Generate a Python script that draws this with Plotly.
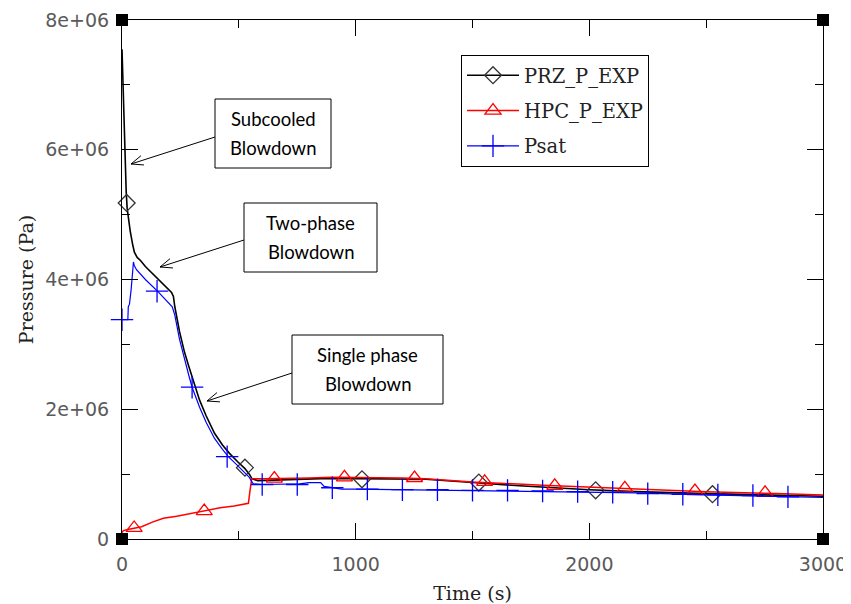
import math
import plotly.graph_objects as go

# ---------------- data ----------------
prz_t = [0, 2, 5, 8, 11, 14, 18, 22, 28, 35, 45, 53, 65, 80, 100, 130, 160, 190, 212, 220, 226,
         246, 266, 286, 310, 332, 360, 396, 430, 460, 495, 525, 545, 556, 580, 650, 750, 850,
         1000, 1200, 1300, 1500, 1700, 2000, 2200, 2500, 2800, 3000]
prz_p = [7.55e6, 7.3e6, 6.7e6, 6.3e6, 5.95e6, 5.7e6, 5.35e6, 5.1e6, 4.92e6, 4.75e6, 4.55e6, 4.42e6,
         4.34e6, 4.29e6, 4.20e6, 4.09e6, 3.98e6, 3.88e6, 3.80e6, 3.74e6, 3.58e6,
         3.20e6, 2.90e6, 2.66e6, 2.38e6, 2.14e6, 1.90e6, 1.63e6, 1.45e6, 1.32e6, 1.19e6, 1.09e6,
         1.00e6, 0.93e6, 0.90e6, 0.91e6, 0.92e6, 0.93e6,
         0.93e6, 0.93e6, 0.92e6, 0.87e6, 0.82e6, 0.76e6, 0.73e6, 0.70e6, 0.68e6, 0.66e6]
prz_mark_t = [20, 526, 1027, 1527, 2027, 2527]
prz_mark_p = [5.18e6, 1.10e6, 0.92e6, 0.87e6, 0.75e6, 0.69e6]

hpc_t = [0, 6, 30, 84, 130, 177, 234, 290, 352, 420, 480, 541, 548, 555, 600, 700, 800, 900,
         1000, 1200, 1300, 1500, 1800, 2000, 2200, 2500, 2800, 3000]
hpc_p = [0.10e6, 0.13e6, 0.15e6, 0.19e6, 0.26e6, 0.32e6, 0.35e6, 0.39e6, 0.43e6, 0.48e6, 0.51e6,
         0.55e6, 0.75e6, 0.93e6, 0.93e6, 0.93e6, 0.94e6, 0.95e6,
         0.95e6, 0.94e6, 0.93e6, 0.88e6, 0.83e6, 0.80e6, 0.77e6, 0.73e6, 0.70e6, 0.68e6]
hpc_mark_t = [52, 352, 652, 952, 1252, 1552, 1852, 2152, 2452, 2752]
hpc_mark_p = [0.17e6, 0.43e6, 0.93e6, 0.95e6, 0.94e6, 0.88e6, 0.82e6, 0.78e6, 0.74e6, 0.71e6]

psat_t = [0, 25, 27, 32, 39, 49, 52, 62, 100, 155, 215, 226, 246, 266, 286, 300, 332, 360, 396,
          430, 455, 495, 525, 545, 556, 562, 600, 700, 760, 800, 850, 865, 900, 940,
          1000, 1200, 1500, 1800, 2000, 2200, 2500, 2800, 3000]
psat_p = [3.38e6, 3.38e6, 3.58e6, 3.62e6, 3.84e6, 4.27e6, 4.22e6, 4.15e6, 4.00e6, 3.81e6, 3.58e6,
          3.45e6, 3.08e6, 2.78e6, 2.52e6, 2.34e6, 2.03e6, 1.80e6, 1.55e6,
          1.38e6, 1.27e6, 1.13e6, 1.03e6, 0.95e6, 0.88e6, 0.85e6, 0.84e6, 0.84e6, 0.85e6, 0.87e6,
          0.87e6, 0.81e6, 0.79e6, 0.77e6,
          0.77e6, 0.76e6, 0.75e6, 0.74e6, 0.72e6, 0.71e6, 0.68e6, 0.66e6, 0.64e6]
psat_mark_t = [0, 150, 300, 450, 600, 750, 900, 1050, 1200, 1350, 1500, 1650, 1800, 1950, 2100,
               2250, 2400, 2550, 2700, 2850]
psat_mark_p = [3.38e6, 3.82e6, 2.34e6, 1.27e6, 0.84e6, 0.84e6, 0.79e6, 0.77e6, 0.76e6, 0.76e6,
               0.75e6, 0.75e6, 0.74e6, 0.73e6, 0.72e6, 0.70e6, 0.69e6, 0.68e6, 0.67e6, 0.65e6]

corner_t = [0, 0, 3000, 3000]
corner_p = [0, 8e6, 0, 8e6]

x_tick_vals = [0, 1000, 2000, 3000]
x_tick_text = ["0", "1000", "2000", "3000"]
y_tick_vals = [0, 2e6, 4e6, 6e6, 8e6]
y_tick_text = ["0", "2e+06", "4e+06", "6e+06", "8e+06"]

series_names = ["PRZ_P_EXP", "HPC_P_EXP", "Psat"]

# ---------------- layout geometry (page pixels; the page body has an 8 px margin) ----------------
OFF = 8
PLOT_L, PLOT_R, PLOT_T, PLOT_B = 122, 823, 20, 539
W, H = 851 - OFF, 604 - OFF
L, T = PLOT_L - OFF, PLOT_T - OFF
R, B = W - (PLOT_R - OFF), H - (PLOT_B - OFF)
PW, PH = PLOT_R - PLOT_L, PLOT_B - PLOT_T


def px(x):
    return (x - PLOT_L) / PW


def py(y):
    return (PLOT_B - y) / PH


BLACK, RED, BLUE = "#000000", "#ff0000", "#0000ff"
fig = go.Figure()

styles = [
    dict(t=prz_t, p=prz_p, mt=prz_mark_t, mp=prz_mark_p, color=BLACK, mcolor="#333333",
         sym="diamond-open", size=13, lw=1.6),
    dict(t=hpc_t, p=hpc_p, mt=hpc_mark_t, mp=hpc_mark_p, color=RED, mcolor=RED,
         sym="triangle-up-open", size=14, lw=1.5),
    dict(t=psat_t, p=psat_p, mt=psat_mark_t, mp=psat_mark_p, color=BLUE, mcolor=BLUE,
         sym="cross-thin-open", size=16, lw=1.2),
]

for name, s in zip(series_names, styles):
    fig.add_trace(go.Scatter(x=s["t"], y=s["p"], mode="lines", line=dict(color=s["color"], width=s["lw"]),
                             showlegend=False, legendgroup=name, hoverinfo="skip"))
    fig.add_trace(go.Scatter(x=s["mt"], y=s["mp"], mode="markers", showlegend=False, legendgroup=name,
                             cliponaxis=False,
                             marker=dict(symbol=s["sym"], size=s["size"], color=s["mcolor"],
                                         line=dict(color=s["mcolor"], width=1.3))))
    # legend entry
    fig.add_trace(go.Scatter(x=[None], y=[None], mode="lines+markers", name=name, legendgroup=name,
                             line=dict(color=s["color"], width=s["lw"]),
                             marker=dict(symbol=s["sym"], size=s["size"], color=s["mcolor"],
                                         line=dict(color=s["mcolor"], width=1.3))))

fig.add_trace(go.Scatter(x=corner_t, y=corner_p, mode="markers", showlegend=False, cliponaxis=False,
                         marker=dict(symbol="square", size=12, color="black")))

# ---------------- callout boxes with open arrows ----------------
shapes = []
annotations = []


def arrow(x0, y0, x1, y1, head=13, ang=22):
    shapes.append(dict(type="line", xref="paper", yref="paper", x0=px(x0), y0=py(y0), x1=px(x1), y1=py(y1),
                       line=dict(color="black", width=1)))
    dx, dy = x0 - x1, y0 - y1
    n = math.hypot(dx, dy)
    ux, uy = dx / n, dy / n
    a = math.radians(ang)
    for sgn in (1, -1):
        hx = ux * math.cos(sgn * a) - uy * math.sin(sgn * a)
        hy = ux * math.sin(sgn * a) + uy * math.cos(sgn * a)
        shapes.append(dict(type="line", xref="paper", yref="paper", x0=px(x1), y0=py(y1),
                           x1=px(x1 + head * hx), y1=py(y1 + head * hy),
                           line=dict(color="black", width=1)))


def box(lines, x0, y0, x1, y1):
    shapes.append(dict(type="rect", xref="paper", yref="paper", x0=px(x0), y0=py(y0), x1=px(x1), y1=py(y1),
                       line=dict(color="black", width=1), fillcolor="white", layer="above"))
    cy = (y0 + y1) / 2
    for i, txt in enumerate(lines):
        annotations.append(dict(text=txt, xref="paper", yref="paper", x=px((x0 + x1) / 2),
                                y=py(cy + (i - 0.5) * 29),
                                xanchor="center", yanchor="middle", showarrow=False,
                                font=dict(family="Lato", size=18.5, color="black")))


arrow(215, 137, 131, 164)
box(["Subcooled", "Blowdown"], 215, 99, 331, 168)
arrow(244, 240, 160, 267)
box(["Two-phase", "Blowdown"], 244, 203, 377, 272)
arrow(292, 373, 207, 401)
box(["Single phase", "Blowdown"], 292, 335, 443, 404)

axis_common = dict(showline=True, linecolor="black", linewidth=1.2, mirror="ticks", ticks="inside",
                   ticklen=16, tickwidth=1, tickcolor="black", showgrid=False, zeroline=False,
                   tickfont=dict(family="DejaVu Sans", size=19, color="#5a5a5a"),
                   ticklabelstandoff=8)

fig.update_layout(
    width=W, height=H, margin=dict(l=L, r=R, t=T, b=B, autoexpand=False),
    paper_bgcolor="white", plot_bgcolor="white",
    xaxis=dict(range=[0, 3000], tickmode="array", tickvals=x_tick_vals, ticktext=x_tick_text,
               minor=dict(dtick=500, tick0=0, ticks="inside", ticklen=8, tickcolor="black", tickwidth=1),
               title=dict(text="Time (s)", font=dict(family="DejaVu Serif", size=19, color="#222222"),
                          standoff=18),
               **axis_common),
    yaxis=dict(range=[0, 8e6], tickmode="array", tickvals=y_tick_vals, ticktext=y_tick_text,
               minor=dict(dtick=1e6, tick0=0, ticks="inside", ticklen=8, tickcolor="black", tickwidth=1),
               title=dict(text="Pressure (Pa)", font=dict(family="DejaVu Serif", size=19, color="#222222"),
                          standoff=6),
               **axis_common),
    legend=dict(x=px(461), y=py(55), xanchor="left", yanchor="top", bordercolor="black", borderwidth=1,
                bgcolor="white", font=dict(family="DejaVu Serif", size=19.5, color="#222222"),
                itemwidth=52, tracegroupgap=7),
    shapes=shapes, annotations=annotations, showlegend=True,
)

fig.write_html("out.html")
